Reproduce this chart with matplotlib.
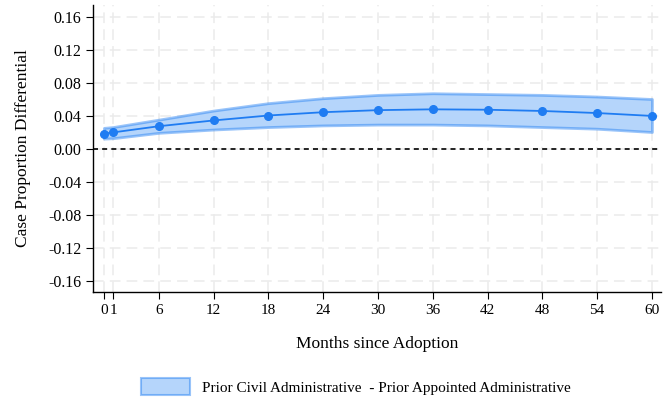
import matplotlib
matplotlib.use("Agg")
import matplotlib.pyplot as plt
from matplotlib.patches import Patch

plt.rcParams['font.family'] = ['Liberation Serif', 'DejaVu Serif']

months = [0, 1, 6, 12, 18, 24, 30, 36, 42, 48, 54, 60]
estimate = [0.019, 0.0205, 0.028, 0.035, 0.041, 0.045, 0.0475, 0.0485, 0.048, 0.0465, 0.044, 0.0405]
ci_upper = [0.026, 0.027, 0.036, 0.047, 0.056, 0.062, 0.066, 0.068, 0.067, 0.066, 0.064, 0.061]
ci_lower = [0.013, 0.0135, 0.020, 0.024, 0.027, 0.029, 0.030, 0.030, 0.029, 0.027, 0.025, 0.021]
yticks = [-0.16, -0.12, -0.08, -0.04, 0.00, 0.04, 0.08, 0.12, 0.16]

line_color = '#1f7cf2'
fill_color = '#b5d5fb'

fig = plt.figure(figsize=(6.66, 4.0), dpi=100)
ax = fig.add_axes([0.1396, 0.27, 0.853, 0.7175])

ax.fill_between(months, ci_lower, ci_upper, facecolor=fill_color,
                edgecolor=(0.12, 0.49, 0.95, 0.45), linewidth=2.0, zorder=2)
ax.plot(months, estimate, color=line_color, lw=1.3, marker='o', ms=5.5, zorder=3)
ax.axhline(0, color='black', lw=1.2, ls=(0, (3, 2.5)), zorder=2)

ax.set_xlim(-1.2, 61)
ax.set_ylim(-0.173, 0.175)
ax.set_xticks(months)
ax.set_yticks(yticks)
ax.set_yticklabels([f"{v:.2f}" for v in yticks])
ax.grid(True, color='#ebebeb', ls=(0, (7, 4)), lw=1.1, zorder=0)

for s in ['top', 'right']:
    ax.spines[s].set_visible(False)
for s in ['left', 'bottom']:
    ax.spines[s].set_linewidth(1.0)
ax.tick_params(direction='out', length=5, width=0.8, labelsize=11.5)
ax.tick_params(axis='x', labelsize=11)

ax.set_ylabel('Case Proportion Differential', fontsize=12.5, labelpad=12)
ax.set_xlabel('Months since Adoption', fontsize=12.5, labelpad=14)

handle = Patch(facecolor=fill_color, edgecolor=(0.12, 0.49, 0.95, 0.45), linewidth=1.5)
fig.legend([handle], ['Prior Civil Administrative  - Prior Appointed Administrative'],
           loc='center', bbox_to_anchor=(0.535, 0.033), frameon=False,
           fontsize=11, handlelength=3.2, handleheight=1.3)

fig.savefig('out.png', dpi=100)
